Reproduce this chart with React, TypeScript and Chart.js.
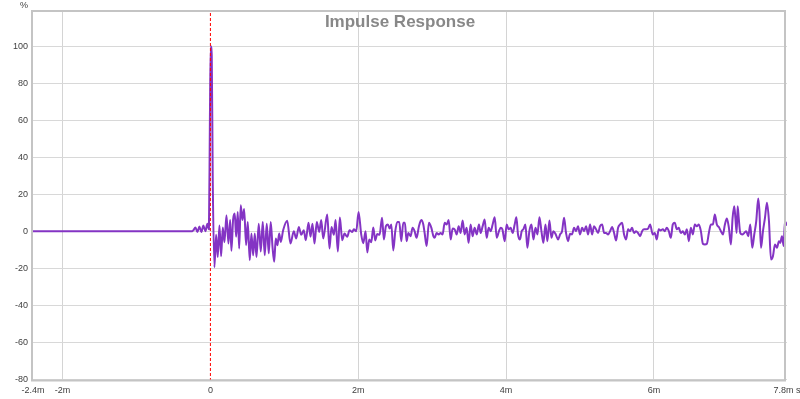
import React, { useEffect, useRef } from "react";
import { Chart, registerables } from "chart.js";

Chart.register(...registerables);

// time axis in milliseconds
const timeMs = [
  -2.4, -0.244, -0.230, -0.203, -0.176, -0.149, -0.122, -0.095, -0.068, -0.041, -0.020, -0.007, 0.004, 0.018, 0.031, 0.054,
  0.077, 0.099, 0.122, 0.145, 0.167, 0.190, 0.217, 0.244, 0.267, 0.284,
  0.307, 0.329, 0.348, 0.370, 0.389, 0.410, 0.433, 0.456, 0.483, 0.505,
  0.532, 0.555, 0.578, 0.600, 0.623, 0.654, 0.681, 0.708, 0.735, 0.762,
  0.789, 0.816, 0.840, 0.863, 0.884, 0.907, 0.930, 0.952, 0.984, 1.039,
  1.083, 1.128, 1.160, 1.196, 1.228, 1.263, 1.290, 1.327, 1.354, 1.381,
  1.408, 1.439, 1.472, 1.499, 1.526, 1.580, 1.611, 1.638, 1.670, 1.693,
  1.724, 1.751, 1.783, 1.814, 1.851, 1.882, 1.919, 1.940, 1.973, 2.004,
  2.041, 2.068, 2.099, 2.122, 2.149, 2.176, 2.203, 2.230, 2.257, 2.288,
  2.322, 2.347, 2.374, 2.401, 2.424, 2.447, 2.474, 2.501, 2.528, 2.555,
  2.582, 2.609, 2.631, 2.654, 2.677, 2.708, 2.735, 2.762, 2.789, 2.821,
  2.853, 2.880, 2.898, 2.925, 2.956, 2.989, 3.016, 3.033, 3.060, 3.087,
  3.114, 3.141, 3.169, 3.196, 3.223, 3.250, 3.277, 3.304, 3.331, 3.358,
  3.385, 3.412, 3.439, 3.466, 3.493, 3.520, 3.547, 3.574, 3.602, 3.633,
  3.656, 3.683, 3.710, 3.737, 3.764, 3.791, 3.818, 3.846, 3.873, 3.904,
  3.927, 3.950, 3.981, 4.008, 4.035, 4.062, 4.089, 4.116, 4.139, 4.161,
  4.188, 4.211, 4.234, 4.261, 4.288, 4.315, 4.343, 4.370, 4.397, 4.424,
  4.451, 4.478, 4.505, 4.532, 4.559, 4.586, 4.613, 4.640, 4.672, 4.703,
  4.730, 4.757, 4.784, 4.811, 4.838, 4.865, 4.892, 4.919, 4.946, 4.973,
  5.000, 5.028, 5.055, 5.082, 5.109, 5.136, 5.163, 5.190, 5.217, 5.244,
  5.271, 5.299, 5.326, 5.353, 5.380, 5.407, 5.434, 5.461, 5.488, 5.515,
  5.542, 5.569, 5.596, 5.623, 5.650, 5.677, 5.704, 5.731, 5.758, 5.785,
  5.813, 5.840, 5.867, 5.894, 5.921, 5.948, 5.984, 6.011, 6.038, 6.065,
  6.093, 6.120, 6.147, 6.174, 6.201, 6.228, 6.255, 6.282, 6.309, 6.336,
  6.364, 6.391, 6.418, 6.445, 6.472, 6.499, 6.526, 6.553, 6.580, 6.607,
  6.635, 6.662, 6.689, 6.716, 6.743, 6.770, 6.797, 6.824, 6.851, 6.878,
  6.906, 6.933, 6.960, 6.987, 7.014, 7.041, 7.064, 7.086, 7.102, 7.119,
  7.132, 7.147, 7.168, 7.195, 7.222, 7.249, 7.276, 7.303, 7.330, 7.357,
  7.384, 7.411, 7.427, 7.448, 7.475, 7.502, 7.529, 7.556, 7.583, 7.610,
  7.637, 7.664, 7.691, 7.709, 7.732, 7.755, 7.772, 7.800,
];

// impulse amplitude in percent
const amplitudePct = [
  0, 0, 0.5, 2, -0.5, 2.5, -0.5, 3, 0, 4, 1, 60, 100, 95, 30, -19.5,
  -2, -14, 3, -13.5, 2, -6, 8.6, -6.7, 6, -10.6,
  6.3, 9.5, -3, 10.4, -9.4, 14, 6, 12, -7.6, 5,
  -15.7, -1.3, -13, -1.3, -14, 4, -11, 5, -13, 4,
  -12, 5, -8.5, -16.5, -4, -7.6, -1.3, -5.8, 0.5, 5.6,
  -6.7, 0, -4, 2.3, -2, 0.5, -4.9, 4.5, -3, 4,
  -6.7, 5, -0.4, 6, -4, 9, -9.4, 2.3, -2, 6,
  -11, 7.4, -4.9, -1.3, -3, 0.5, -0.5, 1, 0, 10.4,
  -2, -6.5, 0, -11.5, -4.5, -6, 2, -5, -1.5, -2,
  7.2, -4.5, 2.7, 3.6, 1.5, 3.6, -10.4, 0, 5, 5,
  -5.4, 4.5, 4.5, -5.4, -1, -2.7, 1.8, 0, -3.6, 2.7,
  6, 3.6, -1, -8, 4.5, 1.8, -2.7, -3.6, -1, -1.8,
  -1, -1.8, 4.5, 3.6, 6, -4.5, 1.4, 1, -1.8, 2.7,
  -1, 5.8, -1.8, 1.8, -6.3, 3.6, -2.7, 1.8, -1.8, 3.6,
  -1, 2.7, 6.3, -3.6, 1.8, 0, 3.6, 7.5, -3.6, 0,
  1.8, 1, -5.4, 3.6, 1, 1.8, -1, 3.6, 7.5, -1.8,
  -4.5, 0, 1, 3.6, -9, 0, 3.6, -4.5, 1.8, -1.8,
  7.5, 0, -6.3, 3.6, -5.4, 5.8, -3.6, 0, -1.8, -4.5,
  -1.8, 0, 7.2, -1, -5.4, -1.4, -1.8, 1.8, 0, 2.7,
  -1.8, 1.8, 0, 2.7, -1.8, 3.6, -1.8, 2.7, 1, -1,
  2.7, 3.6, -1, -1, -1.8, 0, 2.2, -1, -5, 1.8,
  3.6, 4.5, -1.8, -4.5, 1, 0, 1.8, -1, 0, -1,
  -2.7, 0, 1, 1, 1.4, 3.6, -1.8, -1, -4.5, 1,
  0.4, 1, 0, 1.8, 0, -3.6, 3.6, 4.5, 1, 1.8,
  -1, 0, -1.8, 1, -5.4, 1.8, -1.8, 3.6, 2.7, 3.6,
  0, -6.8, -7.2, -6.8, -1, 3.6, 3.6, 9, 3.6, 2.2,
  0, -1.8, 3.6, 6.8, 1.8, -7.2, 7.2, 13.5, 7, -1,
  13.5, 7, -1, -1.8, -1, 0, -2.7, 3.6, -9, -1.8,
  5.4, 17.6, 10.8, -9, 0, 7.2, 15.3, 5.4, -15.3, -13.5,
  -7.2, -9, -5.4, -6.3, -2.7, -8, 5.4, 3,
];

const xTickValues = [-2.4, -2, 0, 2, 4, 6, 7.8];
const xTickLabels = ["-2.4m", "-2m", "0", "2m", "4m", "6m", "7.8m s"];
const yTickValues = [-80, -60, -40, -20, 0, 20, 40, 60, 80, 100];
const markerTime = [0, 0];
const markerLevel = [-81, 119];
const chartTitle = "Impulse Response";
const yUnit = "%";

const FONT = '"Liberation Sans", Arial, sans-serif';

export default function App() {
  const ref = useRef<HTMLCanvasElement>(null);

  useEffect(() => {
    const canvas = ref.current;
    if (!canvas) return;

    const framePlugin = {
      id: "frame",
      beforeDraw(chart: any) {
        const { ctx, width, height } = chart;
        ctx.save();
        ctx.fillStyle = "#ffffff";
        ctx.fillRect(0, 0, width, height);
        ctx.restore();
      },
      afterDraw(chart: any) {
        const { ctx, chartArea: a } = chart;
        ctx.save();
        ctx.strokeStyle = "#c4c4c4";
        ctx.lineWidth = 2;
        ctx.beginPath();
        ctx.moveTo(a.left - 1, a.bottom - 0.5);
        ctx.lineTo(a.left - 1, a.top);
        ctx.lineTo(a.right - 2, a.top);
        ctx.lineTo(a.right - 2, a.bottom - 0.5);
        ctx.closePath();
        ctx.stroke();

        ctx.fillStyle = "#888888";
        ctx.font = `bold 17px ${FONT}`;
        ctx.textAlign = "center";
        ctx.textBaseline = "alphabetic";
        ctx.fillText(chartTitle, 400, 27);

        ctx.fillStyle = "#404040";
        ctx.font = `9px ${FONT}`;
        ctx.fillText(yUnit, 24, 8);
        ctx.restore();
      },
    };

    const chart = new Chart(canvas, {
      type: "line",
      data: {
        datasets: [
          {
            data: markerTime.map((t, i) => ({ x: t, y: markerLevel[i] })),
            borderColor: "#ff0000",
            borderWidth: 1,
            borderDash: [3, 2],
            pointRadius: 0,
            fill: false,
          },
          {
            data: timeMs.map((t, i) => ({ x: t, y: amplitudePct[i] })),
            borderColor: "#8434c4",
            borderWidth: 2,
            pointRadius: 0,
            cubicInterpolationMode: "monotone",
            fill: false,
          },
        ],
      },
      options: {
        responsive: false,
        animation: false,
        devicePixelRatio: 1,
        events: [],
        layout: { padding: { top: 11, right: 13, left: 0, bottom: 0 } },
        plugins: {
          legend: { display: false },
          tooltip: { enabled: false },
          title: { display: false },
        },
        scales: {
          x: {
            type: "linear",
            min: -2.4,
            max: 7.8,
            afterBuildTicks: (s: any) => {
              s.ticks = xTickValues.map((v) => ({ value: v }));
            },
            afterFit: (s: any) => {
              s.height = 18;
              s.paddingLeft = 0;
              s.paddingRight = 0;
            },
            ticks: {
              autoSkip: false,
              maxRotation: 0,
              minRotation: 0,
              padding: 4,
              color: "#404040",
              font: { family: FONT, size: 9 },
              callback: (v: any) => {
                const i = xTickValues.indexOf(Number(v));
                return i >= 0 ? xTickLabels[i] : "";
              },
            },
            grid: {
              drawTicks: false,
              lineWidth: 1,
              color: (c: any) => {
                const v = c.tick ? c.tick.value : null;
                return v === -2.4 || v === 7.8 || v === 0 ? "rgba(0,0,0,0)" : "#d4d4d4";
              },
            },
            border: { display: false },
          },
          y: {
            type: "linear",
            min: -81,
            max: 119,
            afterBuildTicks: (s: any) => {
              s.ticks = yTickValues.map((v) => ({ value: v }));
            },
            afterFit: (s: any) => {
              s.width = 33;
              s.paddingTop = 0;
              s.paddingBottom = 0;
            },
            ticks: {
              padding: 5,
              color: "#404040",
              font: { family: FONT, size: 9 },
              callback: (v: any) => String(v),
            },
            grid: {
              drawTicks: false,
              lineWidth: 1,
              color: "#d8d8d8",
            },
            border: { display: false },
          },
        },
      },
      plugins: [framePlugin],
    } as any);

    return () => chart.destroy();
  }, []);

  return (
    <div
      style={{
        position: "fixed",
        left: 0,
        top: 0,
        width: 800,
        height: 399,
        background: "#ffffff",
      }}
    >
      <canvas ref={ref} width={800} height={399} style={{ display: "block" }} />
    </div>
  );
}
